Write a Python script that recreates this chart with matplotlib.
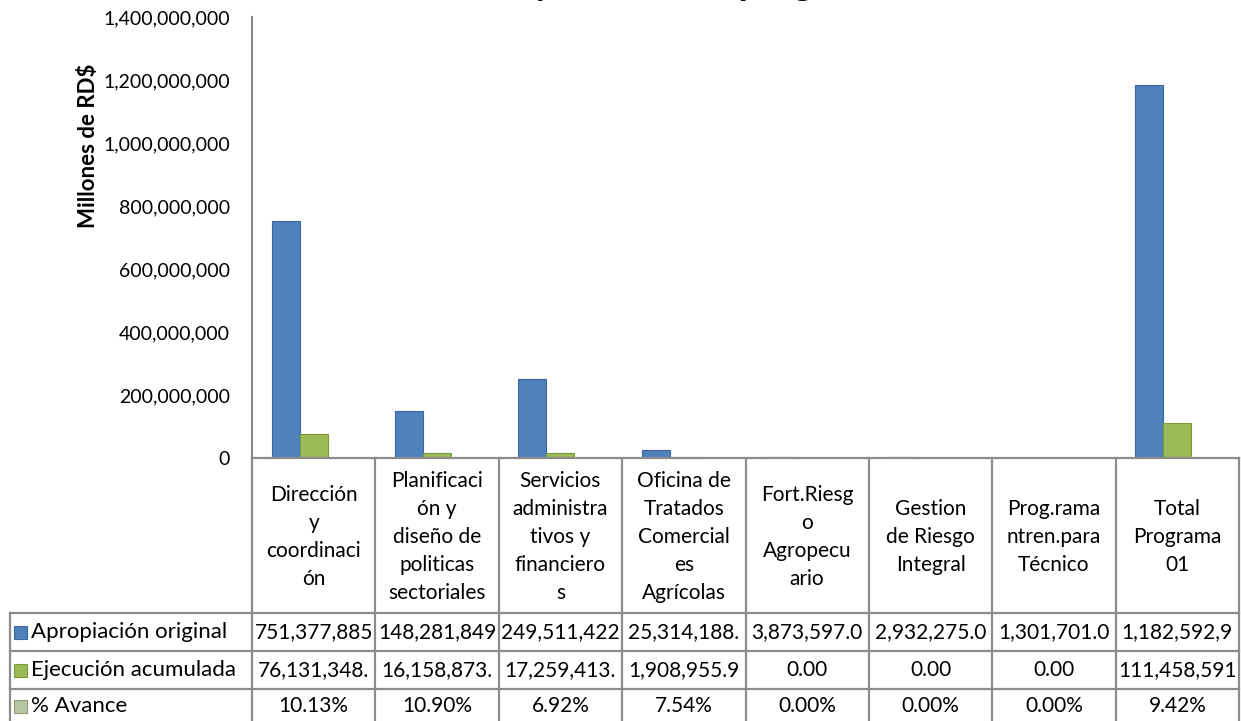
import numpy as np
import matplotlib
matplotlib.use("Agg")
import matplotlib.pyplot as plt
import matplotlib.transforms as mtrans
from matplotlib.patches import Rectangle
from matplotlib.ticker import FuncFormatter

plt.rcParams['font.family'] = ['Lato', 'DejaVu Sans']

categorias = ["Dirección\ny\ncoordinaci\nón",
              "Planificaci\nón y\ndiseño de\npoliticas\nsectoriales",
              "Servicios\nadministra\ntivos y\nfinanciero\ns",
              "Oficina de\nTratados\nComercial\nes\nAgrícolas",
              "Fort.Riesg\no\nAgropecu\nario",
              "Gestion\nde Riesgo\nIntegral",
              "Prog.rama\nntren.para\nTécnico",
              "Total\nPrograma\n01"]
apropiacion = [751377885.00, 148281849.00, 249511422.00, 25314188.00,
               3873597.00, 2932275.00, 1301701.00, 1182592917.00]
ejecucion = [76131348.62, 16158873.51, 17259413.40, 1908955.95,
             0.0, 0.0, 0.0, 111458591.48]
avance = [10.13, 10.90, 6.92, 7.54, 0.00, 0.00, 0.00, 9.42]
series = ["Apropiación original", "Ejecución acumulada", "% Avance"]
colores = ["#4F81BD", "#9BBB59", "#B9C6A3"]
bordes = ["#3A679C", "#7A9A3A", "#8E9C78"]

W, H = 1241, 721
fig = plt.figure(figsize=(W / 100, H / 100), dpi=100)
ax = fig.add_axes([252 / W, (H - 458) / H, (1239 - 252) / W, (458 - 17) / H])

x = np.arange(len(categorias))
w = 0.227
valores = [apropiacion, ejecucion, [a / 100 for a in avance]]
for k in range(3):
    ax.bar(x + (k - 1) * w, valores[k], w, color=colores[k],
           edgecolor=bordes[k], linewidth=0.8)

ax.set_xlim(-0.5, len(categorias) - 0.5)
ax.set_ylim(0, 1.4e9)
ax.set_yticks(np.arange(0, 1.4e9 + 1, 2e8))
ax.yaxis.set_major_formatter(FuncFormatter(lambda v, p: f"{v:,.0f}"))
ax.tick_params(axis='y', length=0, pad=16, labelsize=14)
ax.set_xticks([])
for s in ['top', 'right', 'bottom']:
    ax.spines[s].set_visible(False)
ax.spines['left'].set_color('#888888')
ax.spines['left'].set_linewidth(1.5)

fig.text(88 / W, 1 - 146 / H, "Millones de RD$", rotation=90, fontsize=16,
         fontweight='bold', ha='center', va='center')

# titulo (cortado arriba como en la imagen)
fig.text(0.49, 1 + 5 / H, "Monto Total y Avance de programa", fontsize=26,
         fontweight='bold', ha='center', va='baseline')

# tabla de datos
tr_d = mtrans.blended_transform_factory(ax.transData, fig.transFigure)
tr_a = mtrans.blended_transform_factory(ax.transAxes, fig.transFigure)
fy = lambda p: 1 - p / H
gris = '#8C8C8C'
lw = 1.6
xl = (10 - 252) / (1239 - 252)

for k in range(len(categorias) + 1):
    ax.plot([k - 0.5, k - 0.5], [fy(458), fy(H)], color=gris, lw=lw,
            transform=tr_d, clip_on=False)
ax.plot([0, 1], [fy(458), fy(458)], color=gris, lw=lw, transform=tr_a, clip_on=False)
for yy in [613, 651, 689]:
    ax.plot([xl, 1], [fy(yy), fy(yy)], color=gris, lw=lw, transform=tr_a, clip_on=False)
ax.plot([xl, xl], [fy(613), fy(H)], color=gris, lw=lw, transform=tr_a, clip_on=False)

for i, c in enumerate(categorias):
    ax.text(i, fy(537), c, transform=tr_d, ha='center', va='center',
            fontsize=15, linespacing=1.5)

filas_y = [632, 670, 706]
textos = [[f"{v:,.2f}"[:11] for v in apropiacion],
          [f"{v:,.2f}"[:11] for v in ejecucion],
          [f"{v:.2f}%" for v in avance]]
for r in range(3):
    for i in range(len(categorias)):
        ax.text(i, fy(filas_y[r]), textos[r][i], transform=tr_d, ha='center',
                va='center', fontsize=15)
    fig.patches.append(Rectangle((14 / W, fy(filas_y[r] + 7)), 13 / W, 13 / H,
                                 transform=fig.transFigure, facecolor=colores[r],
                                 edgecolor=bordes[r], lw=0.8))
    fig.text(31 / W, fy(filas_y[r]), series[r], ha='left', va='center', fontsize=16)

fig.savefig("out.png", dpi=100)
